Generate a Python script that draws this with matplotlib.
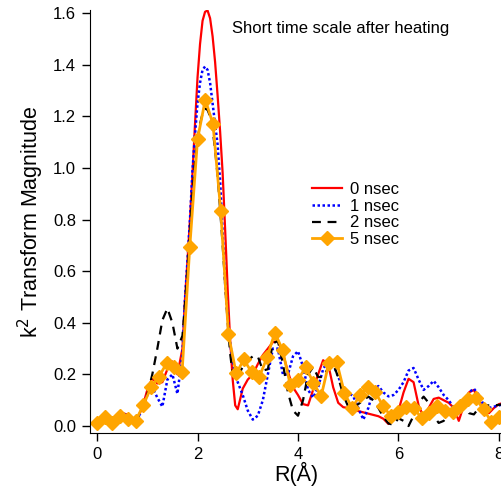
import numpy as np
import matplotlib
matplotlib.use("Agg")
import matplotlib.pyplot as plt

plt.rcParams['font.family'] = ['Liberation Sans', 'DejaVu Sans']

# R grid for the smooth curves: 0.1 A steps, 0.05 A around the main peak
r = np.round(np.concatenate([np.arange(0, 1.65, 0.1),
                             np.arange(1.7, 2.82, 0.05),
                             np.arange(2.9, 8.15, 0.1)]), 2)

# 0 nsec
red = [0.01, 0.03, 0.04, 0.02, 0.03, 0.05, 0.045, 0.025, 0.03, 0.07,
       0.14, 0.185, 0.165, 0.17, 0.22, 0.25, 0.2,
       0.3, 0.49, 0.64, 0.8, 0.98, 1.17, 1.35, 1.48, 1.57, 1.605, 1.61, 1.58,
       1.51, 1.41, 1.28, 1.14, 0.98, 0.76, 0.53, 0.33, 0.18, 0.08, 0.065,
       0.145,
       0.18, 0.2, 0.24, 0.275, 0.3, 0.325, 0.33, 0.28, 0.21, 0.15,
       0.12, 0.085, 0.08, 0.14, 0.2, 0.255, 0.24, 0.15, 0.09, 0.073,
       0.07, 0.065, 0.058, 0.053, 0.048, 0.043, 0.038, 0.028, 0.008, 0.03,
       0.06, 0.13, 0.183, 0.17, 0.08, 0.035, 0.07, 0.105, 0.11, 0.1,
       0.09, 0.07, 0.02, 0.08, 0.13, 0.14, 0.1, 0.055, 0.05, 0.07,
       0.085, 0.09]

# 1 nsec
blue = [0.01, 0.035, 0.04, 0.02, 0.03, 0.05, 0.04, 0.02, 0.03, 0.06,
        0.12, 0.15, 0.11, 0.075, 0.18, 0.2, 0.125,
        0.28, 0.49, 0.64, 0.8, 0.99, 1.13, 1.25, 1.33, 1.38, 1.393, 1.38, 1.33,
        1.25, 1.17, 1.09, 0.95, 0.75, 0.55, 0.42, 0.32, 0.25, 0.2, 0.17,
        0.12,
        0.06, 0.025, 0.04, 0.1, 0.2, 0.3, 0.3, 0.2, 0.2, 0.27,
        0.29, 0.23, 0.14, 0.11, 0.15, 0.22, 0.255, 0.24, 0.19, 0.15,
        0.13, 0.115, 0.07, 0.025, 0.07, 0.14, 0.155, 0.13, 0.115, 0.12,
        0.14, 0.17, 0.215, 0.225, 0.18, 0.14, 0.155, 0.175, 0.15, 0.12,
        0.1, 0.07, 0.05, 0.08, 0.13, 0.145, 0.12, 0.08, 0.07, 0.075,
        0.08, 0.085]

# 2 nsec
black = [0.01, 0.03, 0.04, 0.015, 0.025, 0.045, 0.04, 0.02, 0.025, 0.06,
         0.12, 0.2, 0.3, 0.41, 0.456, 0.4, 0.3,
         0.35, 0.47, 0.6, 0.75, 0.9, 1.02, 1.11, 1.17, 1.21, 1.23, 1.225, 1.2,
         1.15, 1.07, 0.97, 0.84, 0.7, 0.55, 0.4, 0.28, 0.2, 0.18, 0.19,
         0.23,
         0.255, 0.27, 0.27, 0.215, 0.22, 0.32, 0.33, 0.24, 0.13, 0.06,
         0.04, 0.1, 0.2, 0.228, 0.19, 0.19, 0.225, 0.24, 0.19, 0.12,
         0.075, 0.07, 0.085, 0.1, 0.114, 0.1, 0.07, 0.035, 0.01, 0.005,
         0.03, 0.02, 0.0, 0.04, 0.09, 0.114, 0.09, 0.04, 0.012, 0.02,
         0.05, 0.075, 0.088, 0.085, 0.05, 0.045, 0.07, 0.08, 0.08, 0.08,
         0.082, 0.085]

# 5 nsec (with markers)
r5 = np.linspace(0, 8, 53)
orange = [0.012, 0.036, 0.013, 0.040, 0.027, 0.021, 0.081, 0.152, 0.191, 0.243,
          0.230, 0.208, 0.695, 1.111, 1.264, 1.171, 0.835, 0.355, 0.204, 0.258,
          0.208, 0.191, 0.266, 0.362, 0.295, 0.159, 0.178, 0.230, 0.166, 0.116,
          0.245, 0.249, 0.129, 0.069, 0.120, 0.150, 0.131, 0.078, 0.039, 0.055,
          0.075, 0.069, 0.030, 0.052, 0.078, 0.058, 0.055, 0.078, 0.103, 0.107,
          0.065, 0.017, 0.034]

fig = plt.figure(figsize=(5.02, 4.96), dpi=100)
ax = fig.add_axes([90/502, 63/496, 412/502, 423/496])

ax.plot(r, red, color='red', lw=1.6, label='0 nsec')
ax.plot(r, blue, color='blue', lw=1.8, ls=(0, (1, 1)), label='1 nsec')
ax.plot(r, black, color='black', lw=1.6, ls=(0, (4, 3)), label='2 nsec')
ax.plot(r5, orange, color='orange', lw=2, marker='D', ms=7, label='5 nsec')

ax.set_xlim(-0.14, 8.06)
ax.set_ylim(-0.027, 1.612)
ax.set_xticks([0, 2, 4, 6, 8])
ax.set_yticks(np.arange(0, 1.61, 0.2))
ax.set_yticklabels(['%.1f' % v for v in np.arange(0, 1.61, 0.2)])
ax.spines['top'].set_visible(False)
ax.spines['right'].set_visible(False)
ax.tick_params(direction='out', length=6, width=1, labelsize=12, pad=4)

ax.set_xlabel('R(Å)', fontsize=15.5, labelpad=0)
ax.set_ylabel('k$^2$ Transform Magnitude', fontsize=15.5, labelpad=5)

ax.text(0.345, 0.975, 'Short time scale after heating', transform=ax.transAxes,
        fontsize=12, va='top')

ax.legend(loc='upper left', bbox_to_anchor=(0.54, 0.593), frameon=False,
          fontsize=12, handlelength=1.8, handletextpad=0.45, labelspacing=0.1,
          borderpad=0, borderaxespad=0)

fig.savefig('out.png', dpi=100)
